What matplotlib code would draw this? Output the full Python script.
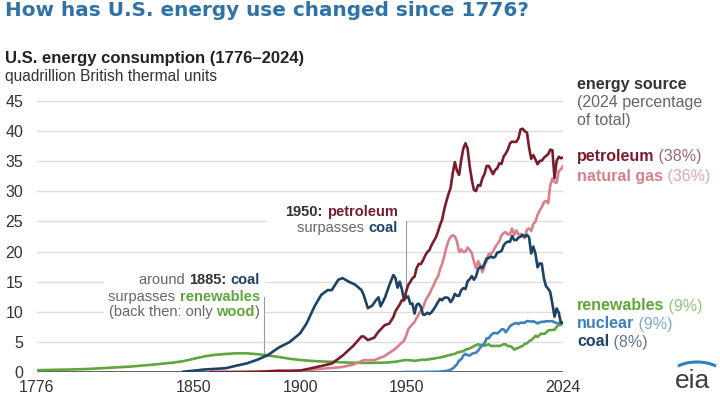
import matplotlib
matplotlib.use('Agg')
import matplotlib.pyplot as plt
from matplotlib.transforms import IdentityTransform
from matplotlib.patches import Rectangle, Arc

plt.rcParams['font.family'] = ['Liberation Sans', 'DejaVu Sans']

# Datos (cuatrillones de Btu)

pet_years = [1858, 1870, 1880, 1890, 1900, 1905, 1910, 1915, 1920, 1925, 1929, 1930, 1932, 1935,
             1937, 1940, 1942, 1944, 1945, 1947, 1948] + list(range(1949, 2025))
pet_vals = [0.0, 0.01, 0.05, 0.16, 0.23, 0.6, 1.0, 1.4, 2.7, 4.3, 5.9, 5.9, 5.3, 5.7,
            6.7, 7.8, 8.0, 9.1, 10.1, 11.2, 11.9,
            11.88, 13.32, 14.43, 14.96, 15.56, 15.84, 17.25, 17.94, 17.93, 18.53, 19.32,
            19.92, 20.22, 21.05, 21.70, 22.30, 23.25, 24.40, 25.28, 26.98, 28.34,
            29.52, 30.56, 32.95, 34.84, 33.45, 32.73, 35.17, 37.12, 37.97, 37.12,
            34.20, 31.93, 30.23, 30.05, 31.05, 30.92, 32.20, 32.87, 34.22, 34.21,
            33.55, 32.85, 33.53, 33.84, 34.67, 34.55, 35.76, 36.27, 36.93, 37.96,
            38.26, 38.19, 38.22, 38.81, 40.29, 40.39, 39.96, 39.77, 37.28, 35.40,
            36.01, 35.30, 34.49, 35.04, 35.10, 35.57, 35.88, 36.17, 36.92, 36.82,
            32.20, 35.04, 35.73, 35.50, 35.60]

gas_years = [1880, 1885, 1890, 1895, 1900, 1905, 1910, 1915, 1920, 1925, 1930, 1935, 1940,
             1945, 1948] + list(range(1949, 2025))
gas_vals = [0.0, 0.13, 0.26, 0.15, 0.25, 0.37, 0.54, 0.67, 0.83, 1.22, 1.97, 1.97, 2.66,
            3.87, 4.9,
            5.15, 5.97, 7.05, 7.55, 7.91, 8.33, 9.00, 9.61, 10.19, 10.66, 11.72,
            12.39, 12.93, 13.73, 14.40, 15.29, 15.77, 16.99, 17.94, 19.21, 20.68,
            21.79, 22.47, 22.70, 22.51, 21.73, 19.95, 20.35, 19.93, 20.00, 20.67,
            20.24, 19.74, 18.36, 17.20, 18.39, 17.70, 16.59, 17.64, 18.45, 19.60,
            19.60, 20.03, 20.71, 21.23, 21.73, 22.67, 23.09, 23.22, 22.83, 22.91,
            23.82, 22.77, 23.51, 22.83, 22.91, 22.56, 22.22, 23.66, 23.84, 23.42,
            24.57, 24.95, 26.09, 26.81, 27.38, 28.19, 28.40, 28.03, 31.00, 32.10,
            31.54, 31.43, 33.41, 33.63, 34.20]

coal_years = [1845, 1850, 1855, 1860, 1865, 1870, 1875, 1880, 1885, 1890, 1895, 1900, 1903,
              1905, 1907, 1910, 1913, 1915, 1918, 1920, 1923, 1926, 1929, 1930, 1932,
              1934, 1936, 1937, 1938, 1940, 1942, 1944, 1945, 1946, 1947, 1948] + list(range(1949, 2025))
coal_vals = [0.05, 0.22, 0.42, 0.52, 0.63, 1.05, 1.44, 2.05, 2.84, 4.06, 4.95, 6.4, 8.0,
             9.5, 11.0, 12.8, 13.6, 13.6, 15.3, 15.6, 15.0, 14.5, 13.6, 12.8, 10.6,
             11.0, 12.0, 12.4, 10.9, 12.3, 14.3, 16.1, 15.6, 14.0, 15.0, 13.8,
             11.98, 12.35, 12.55, 11.31, 11.37, 9.70, 11.17, 11.35, 10.82, 9.53, 9.52,
             9.84, 9.62, 9.91, 10.41, 10.96, 11.58, 12.14, 11.91, 12.33, 12.38,
             12.27, 11.60, 12.08, 12.97, 12.66, 12.66, 13.58, 13.92, 13.77, 15.04,
             15.42, 15.91, 15.32, 15.89, 17.07, 17.48, 17.26, 18.01, 18.85, 18.93,
             19.17, 18.99, 19.12, 19.84, 19.91, 20.09, 21.00, 21.45, 21.66, 21.62,
             22.58, 21.91, 21.90, 22.32, 22.47, 22.80, 22.45, 22.75, 22.39, 19.69,
             20.83, 19.66, 17.38, 18.04, 17.99, 15.55, 14.23, 13.84, 13.25, 11.32,
             9.18, 10.55, 9.85, 8.17, 8.20]

nuc_years = [1949, 1956, 1960, 1965, 1968, 1970] + list(range(1971, 2025))
nuc_vals = [0.0, 0.0, 0.01, 0.04, 0.14, 0.24,
            0.41, 0.58, 0.91, 1.27, 1.90, 2.11, 2.70, 3.02, 2.78,
            2.74, 3.01, 3.13, 3.20, 3.55, 4.08, 4.38, 4.75, 5.59, 5.60,
            6.10, 6.42, 6.48, 6.41, 6.69, 7.08, 7.09, 6.60, 7.07, 7.61,
            7.86, 8.03, 8.14, 7.96, 8.22, 8.16, 8.21, 8.46, 8.43, 8.36,
            8.43, 8.27, 8.06, 8.27, 8.33, 8.34, 8.43, 8.42, 8.44, 8.45,
            8.25, 8.13, 8.06, 8.10, 8.20]

ren_years = [1776, 1790, 1800, 1810, 1820, 1830, 1840, 1845, 1850, 1855, 1860, 1865, 1870,
             1875, 1880, 1885, 1890, 1895, 1900, 1905, 1910, 1915, 1920, 1930, 1940,
             1945] + list(range(1949, 2025))
ren_vals = [0.3, 0.4, 0.5, 0.7, 0.9, 1.2, 1.55, 1.8, 2.2, 2.6, 2.85, 3.0, 3.1,
            3.1, 2.95, 2.75, 2.5, 2.2, 2.0, 1.85, 1.75, 1.7, 1.6, 1.5, 1.55,
            1.7,
            1.95, 2.0, 1.95, 1.95, 1.9, 1.85, 1.9, 1.95, 2.0, 2.05, 2.0,
            2.1, 2.1, 2.2, 2.2, 2.3, 2.35, 2.4, 2.5, 2.55, 2.7,
            2.75, 2.85, 2.95, 3.0, 3.2, 3.3, 3.4, 3.45, 3.7, 3.8,
            3.9, 4.1, 4.3, 4.45, 4.6, 4.5, 4.5, 4.4, 4.45, 4.6,
            4.3, 4.35, 4.3, 4.35, 4.3, 4.45, 4.6, 4.6, 4.3, 4.3,
            4.1, 3.7, 3.9, 4.0, 4.2, 4.35, 4.7, 4.75, 5.1, 5.3,
            5.6, 6.0, 5.8, 6.2, 6.4, 6.3, 6.5, 6.9, 6.95, 7.0,
            7.0, 7.5, 7.8, 7.8, 8.2]

x_ticks = [1776, 1850, 1900, 1950, 2024]
y_ticks = list(range(0, 50, 5))

# Colores

c_pet = '#7a1c2c'
c_gas = '#d9808a'
c_coal = '#1c4266'
c_nuc = '#3c80c0'
c_ren = '#5fa63c'
c_txt = '#333333'
c_gray = '#666666'

# Figura

fig = plt.figure(figsize=(7.2, 4.01), dpi=100)
W, H = 720, 401
ax = fig.add_axes([37 / W, 1 - 372 / H, (563 - 37) / W, (372 - 101) / H])
ax.set_xlim(1776, 2024)
ax.set_ylim(0, 45)
for s in ax.spines.values():
    s.set_visible(False)
ax.set_xticks(x_ticks)
ax.set_yticks(y_ticks)
ax.tick_params(length=0, labelsize=11.5, labelcolor=c_txt)
ax.tick_params(axis='x', pad=6)
ax.tick_params(axis='y', pad=10)
for v in y_ticks[1:]:
    ax.axhline(v, color='#dedede', lw=1.0, zorder=0)
ax.axhline(0, color='#555555', lw=1.3, zorder=1)

lw = 1.9
ax.plot(ren_years, ren_vals, color=c_ren, lw=lw, zorder=3, solid_joinstyle='round')
ax.plot(nuc_years, nuc_vals, color=c_nuc, lw=lw, zorder=3, solid_joinstyle='round')
ax.plot(gas_years, gas_vals, color=c_gas, lw=lw, zorder=4, solid_joinstyle='round')
ax.plot(coal_years, coal_vals, color=c_coal, lw=lw, zorder=5, solid_joinstyle='round')
ax.plot(pet_years, pet_vals, color=c_pet, lw=lw, zorder=5, solid_joinstyle='round')

renderer = fig.canvas.get_renderer()


def ancho(s, **kw):
    t = fig.text(0, 0, '|' + s + '|', transform=IdentityTransform(), **kw)
    w1 = t.get_window_extent(renderer).width
    t.remove()
    t = fig.text(0, 0, '||', transform=IdentityTransform(), **kw)
    w2 = t.get_window_extent(renderer).width
    t.remove()
    return w1 - w2


def texto_rico(x, y, partes, size, ha='left', zorder=6):
    # x, y en pixeles; partes = [(texto, color, peso)]
    anchos = [ancho(s, fontsize=size, fontweight=wt) for s, c, wt in partes]
    total = sum(anchos)
    x0 = x - total if ha == 'right' else x
    for (s, c, wt), w in zip(partes, anchos):
        fig.text(x0, y, s, color=c, fontweight=wt, fontsize=size, va='center',
                 ha='left', transform=IdentityTransform(), zorder=zorder)
        x0 += w
    return x - total if ha == 'right' else x, total


def px(xd, yd):
    return ax.transData.transform((xd, yd))


# Anotaciones

ax.plot([1950, 1950], [12.8, 25], color='#9a9a9a', lw=0.8, zorder=2)
ax.plot([1883, 1883], [2.6, 12.5], color='#9a9a9a', lw=0.8, zorder=2)

xr, _ = px(1946, 0)
y1 = H - 212
y2 = H - 228
ax.add_patch(Rectangle((267, y2 - 9), xr + 8 - 267, y1 - y2 + 18, transform=IdentityTransform(),
                       facecolor='white', edgecolor='none', zorder=1.5))
texto_rico(xr, y1, [('1950:', c_txt, 'bold'), (' ', c_txt, 'bold'), ('petroleum', c_pet, 'bold')],
           10.5, ha='right')
texto_rico(xr, y2, [('surpasses ', c_gray, 'normal'), ('coal', c_coal, 'bold')], 10.5, ha='right')

xr, _ = px(1881, 0)
ya = H - 280
yb = H - 297
yc = H - 312
izq, tot = texto_rico(xr, yc, [('(back then: only ', c_gray, 'normal'), ('wood', c_ren, 'bold'),
                               (')', c_gray, 'normal')], 10.5, ha='right')
ax.add_patch(Rectangle((izq - 5, yc - 9), tot + 10, ya - yc + 18, transform=IdentityTransform(),
                       facecolor='white', edgecolor='none', zorder=1.5))
texto_rico(xr, ya, [('around ', c_gray, 'normal'), ('1885:', c_txt, 'bold'), (' ', c_txt, 'bold'),
                    ('coal', c_coal, 'bold')], 10.5, ha='right')
texto_rico(xr, yb, [('surpasses ', c_gray, 'normal'), ('renewables', c_ren, 'bold')], 10.5, ha='right')

# Etiquetas de la derecha

xl = 577
fs = 11.5
texto_rico(xl, H - 84, [('energy source', c_txt, 'bold')], fs)
texto_rico(xl, H - 103, [('(2024 percentage', c_gray, 'normal')], fs)
texto_rico(xl, H - 121, [('of total)', c_gray, 'normal')], fs)
texto_rico(xl, H - 157, [('petroleum', c_pet, 'bold'), (' (38%)', '#9a6a72', 'normal')], fs)
texto_rico(xl, H - 176, [('natural gas', c_gas, 'bold'), (' (36%)', '#e3a7ad', 'normal')], fs)
texto_rico(xl, H - 306, [('renewables', c_ren, 'bold'), (' (9%)', '#93c47a', 'normal')], fs)
texto_rico(xl, H - 324, [('nuclear', c_nuc, 'bold'), (' (9%)', '#7fa9d4', 'normal')], fs)
texto_rico(xl, H - 342, [('coal', c_coal, 'bold'), (' (8%)', '#60778f', 'normal')], fs)

# Titulos

fig.text(5 / W, 1 - 16 / H, 'How has U.S. energy use changed since 1776?', fontsize=14.4,
         fontweight='bold', color='#2f72a6', family='DejaVu Sans', va='baseline')
fig.text(5 / W, 1 - 58 / H, 'U.S. energy consumption (1776\u20132024)', fontsize=12,
         fontweight='bold', color='#222222', va='center')
fig.text(5 / W, 1 - 76 / H, 'quadrillion British thermal units', fontsize=11.2,
         color=c_txt, va='center')

# Logo

fig.text(693 / W, 1 - 381 / H, 'eia', fontsize=19, color='#3d3d3d', ha='center', va='center')
fig.add_artist(Arc((697, 26), 52, 26, theta1=25, theta2=155, transform=IdentityTransform(),
                   color='#2f80c0', lw=2.2))

fig.savefig('out.png', dpi=100)
